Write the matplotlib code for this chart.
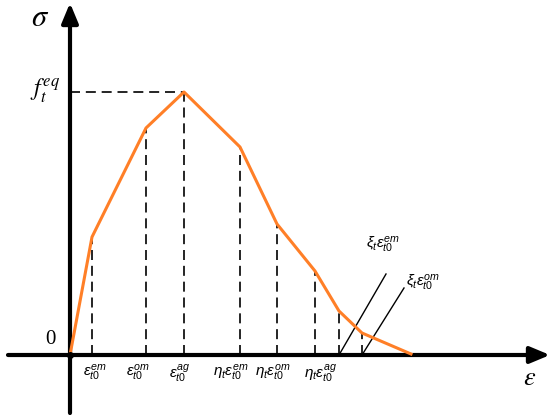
import matplotlib
matplotlib.use("Agg")
from matplotlib import pyplot as plt

plt.rcParams['mathtext.fontset'] = 'custom'
plt.rcParams['mathtext.rm'] = 'Liberation Sans'
plt.rcParams['mathtext.it'] = 'Liberation Sans:italic'

ORANGE = '#FF7F27'

#%% curve data (strain, stress), arbitrary units
eps = [0, 22, 76, 114, 170, 207, 245, 269, 292, 341]
sig = [0, 118, 227, 263, 208, 131, 84, 44, 22, 1]

# dashed drop lines (indices into eps/sig)
drop_idx = [1, 2, 3, 4, 5, 6, 7, 8]
tick_labels = [r'$\varepsilon_{t0}^{em}$', r'$\varepsilon_{t0}^{om}$', r'$\varepsilon_{t0}^{ag}$',
               r'$\eta_t\varepsilon_{t0}^{em}$', r'$\eta_t\varepsilon_{t0}^{om}$', r'$\eta_t\varepsilon_{t0}^{ag}$']
tick_label_x = [25, 68, 110, 161, 203, 250]

# softening lines
xi_x0 = [269, 292]
xi_x1 = [316, 334]
xi_y1 = [81, 67]
xi_labels = [r'$\xi_t\varepsilon_{t0}^{em}$', r'$\xi_t\varepsilon_{t0}^{om}$']

fig = plt.figure(figsize=(5.5, 4.2), dpi=100)
ax = fig.add_axes([0, 0, 1, 1])
ax.set_xlim(-70, 480)
ax.set_ylim(-65, 355)
ax.axis('off')

# axes with arrows
ax.annotate('', xy=(480, 0), xytext=(-62, 0),
            arrowprops=dict(arrowstyle='-|>,head_length=1.2,head_width=0.5', lw=3, color='black',
                            shrinkA=0, shrinkB=0))
ax.annotate('', xy=(0, 352), xytext=(0, -58),
            arrowprops=dict(arrowstyle='-|>,head_length=1.2,head_width=0.5', lw=3, color='black',
                            shrinkA=0, shrinkB=0))

# dashed lines
for i in drop_idx:
    ax.plot([eps[i], eps[i]], [0, sig[i]], '--', color='black', lw=1.2, dashes=(6, 3.5))
ax.plot([0, eps[3]], [sig[3], sig[3]], '--', color='black', lw=1.2, dashes=(6, 3.5))

# softening lines
for k in range(2):
    ax.plot([xi_x0[k], xi_x1[k]], [0, xi_y1[k]], color='black', lw=1.0)

# curve
ax.plot(eps, sig, color=ORANGE, lw=2.2, zorder=5)
ax.plot(0, 0, 'o', color='black', ms=4, zorder=6)

# tick labels
for x, lab in zip(tick_label_x, tick_labels):
    ax.text(x, -18, lab, ha='center', va='center', fontsize=11)

ax.text(313, 110, xi_labels[0], ha='center', va='center', fontsize=11)
ax.text(353, 72, xi_labels[1], ha='center', va='center', fontsize=11)

ax.text(-10, 264, r'$f_t^{eq}$', ha='right', va='center', fontsize=17, math_fontfamily='stix')
ax.text(-20, 15, '0', ha='center', va='center', fontsize=15, family='Liberation Serif')
ax.text(-30, 337, r'$\sigma$', ha='center', va='center', fontsize=22, math_fontfamily='stix')
ax.text(460, -23, r'$\varepsilon$', ha='center', va='center', fontsize=19, math_fontfamily='stix')

fig.savefig('out.png', dpi=100)
